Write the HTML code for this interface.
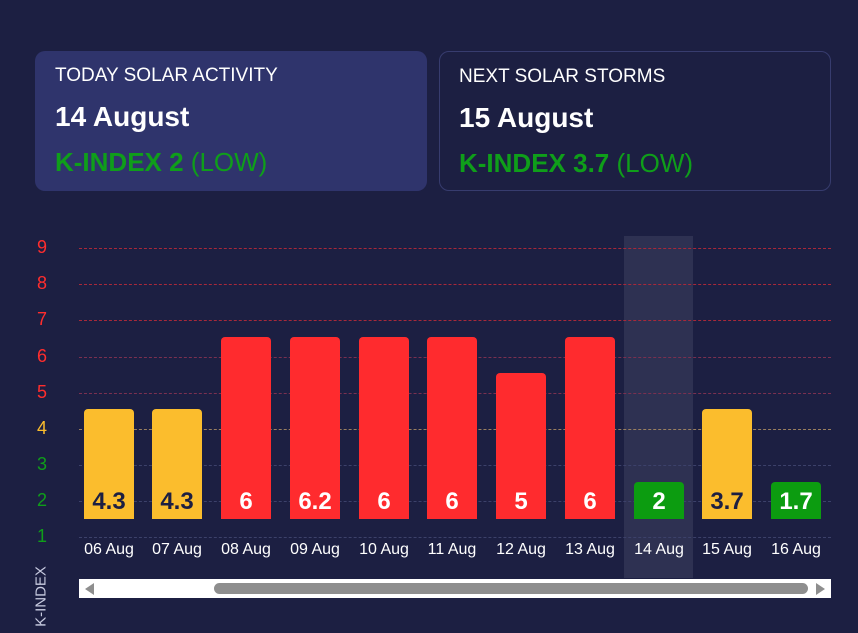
<!DOCTYPE html>
<html><head><style>
body{margin:0;width:858px;height:633px;background:#1c1f42;font-family:"Liberation Sans",sans-serif;overflow:hidden;position:relative}
.card{position:absolute;top:51px;width:392px;height:140px;border-radius:10px;box-sizing:border-box}
.c1{left:35px;background:#2f346c}
.c2{left:439px;border:1px solid #373c6e}
.t{position:absolute;left:20px;top:14px;color:#fff;font-size:19px}
.d{position:absolute;left:20px;top:50px;color:#fff;font-size:28px;font-weight:bold}
.k{position:absolute;left:20px;top:96px;color:#0f9e1a;font-size:26px}
.k b{font-weight:bold}
.g{position:absolute;left:79px;width:752px;height:0;border-top:1px dashed}
.yl{position:absolute;left:30px;width:24px;text-align:center;font-size:18px}
.bar{position:absolute;width:50px;border-radius:4px 4px 0 0;text-align:center;font-weight:bold;font-size:24px;line-height:1}
.bar span{position:absolute;left:0;right:0;bottom:5px}
.xl{position:absolute;top:541px;width:80px;text-align:center;color:#fff;font-size:16px}
</style></head><body>
<div class="card c1"><div class="t">TODAY SOLAR ACTIVITY</div><div class="d">14 August</div><div class="k"><b>K-INDEX 2</b> (LOW)</div></div>
<div class="card c2"><div class="t" style="left:19px">NEXT SOLAR STORMS</div><div class="d" style="left:19px">15 August</div><div class="k" style="left:19px"><b>K-INDEX 3.7</b> (LOW)</div></div>
<div style="position:absolute;left:624px;top:236px;width:69px;height:342px;background:#2e3152"></div>
<div class="g" style="top:248px;border-color:#a8283a"></div>
<div class="g" style="top:284px;border-color:#a8283a"></div>
<div class="g" style="top:320px;border-color:#a8283a"></div>
<div class="g" style="top:357px;border-color:#7a3050"></div>
<div class="g" style="top:393px;border-color:#7a3050"></div>
<div class="g" style="top:429px;border-color:#9a8060"></div>
<div class="g" style="top:465px;border-color:#3c416a"></div>
<div class="g" style="top:501px;border-color:#3c416a"></div>
<div class="g" style="top:537px;border-color:#3c416a"></div>
<div class="yl" style="top:237px;color:#ff2d2d">9</div>
<div class="yl" style="top:273px;color:#ff2d2d">8</div>
<div class="yl" style="top:309px;color:#ff2d2d">7</div>
<div class="yl" style="top:346px;color:#ff2d2d">6</div>
<div class="yl" style="top:382px;color:#ff2d2d">5</div>
<div class="yl" style="top:418px;color:#fbbd2d">4</div>
<div class="yl" style="top:454px;color:#0f9e1a">3</div>
<div class="yl" style="top:490px;color:#0f9e1a">2</div>
<div class="yl" style="top:526px;color:#0f9e1a">1</div>
<div style="position:absolute;left:6px;width:70px;transform:rotate(-90deg);transform-origin:center;color:#c8cbe0;font-size:15px;text-align:center;top:588px">K-INDEX</div>

<div class="bar" style="left:84px;top:409px;height:110px;background:#fbbd2d;color:#1c1f42"><span>4.3</span></div>
<div class="bar" style="left:152px;top:409px;height:110px;background:#fbbd2d;color:#1c1f42"><span>4.3</span></div>
<div class="bar" style="left:221px;top:337px;height:182px;background:#ff2b2e;color:#fff"><span>6</span></div>
<div class="bar" style="left:290px;top:337px;height:182px;background:#ff2b2e;color:#fff"><span>6.2</span></div>
<div class="bar" style="left:359px;top:337px;height:182px;background:#ff2b2e;color:#fff"><span>6</span></div>
<div class="bar" style="left:427px;top:337px;height:182px;background:#ff2b2e;color:#fff"><span>6</span></div>
<div class="bar" style="left:496px;top:373px;height:146px;background:#ff2b2e;color:#fff"><span>5</span></div>
<div class="bar" style="left:565px;top:337px;height:182px;background:#ff2b2e;color:#fff"><span>6</span></div>
<div class="bar" style="left:634px;top:482px;height:37px;background:#0c9c10;color:#fff"><span>2</span></div>
<div class="bar" style="left:702px;top:409px;height:110px;background:#fbbd2d;color:#1c1f42"><span>3.7</span></div>
<div class="bar" style="left:771px;top:482px;height:37px;background:#0c9c10;color:#fff"><span>1.7</span></div>

<div class="xl" style="left:69px">06 Aug</div>
<div class="xl" style="left:137px">07 Aug</div>
<div class="xl" style="left:206px">08 Aug</div>
<div class="xl" style="left:275px">09 Aug</div>
<div class="xl" style="left:344px">10 Aug</div>
<div class="xl" style="left:412px">11 Aug</div>
<div class="xl" style="left:481px">12 Aug</div>
<div class="xl" style="left:550px">13 Aug</div>
<div class="xl" style="left:619px">14 Aug</div>
<div class="xl" style="left:687px">15 Aug</div>
<div class="xl" style="left:756px">16 Aug</div>

<div style="position:absolute;left:79px;top:579px;width:752px;height:19px;background:#fff"></div>
<div style="position:absolute;left:214px;top:583px;width:594px;height:11px;background:#8e8e8e;border-radius:6px"></div>
<div style="position:absolute;left:85px;top:583px;width:0;height:0;border-top:6px solid transparent;border-bottom:6px solid transparent;border-right:9px solid #8e8e8e"></div>
<div style="position:absolute;left:816px;top:583px;width:0;height:0;border-top:6px solid transparent;border-bottom:6px solid transparent;border-left:9px solid #8e8e8e"></div>
</body></html>
